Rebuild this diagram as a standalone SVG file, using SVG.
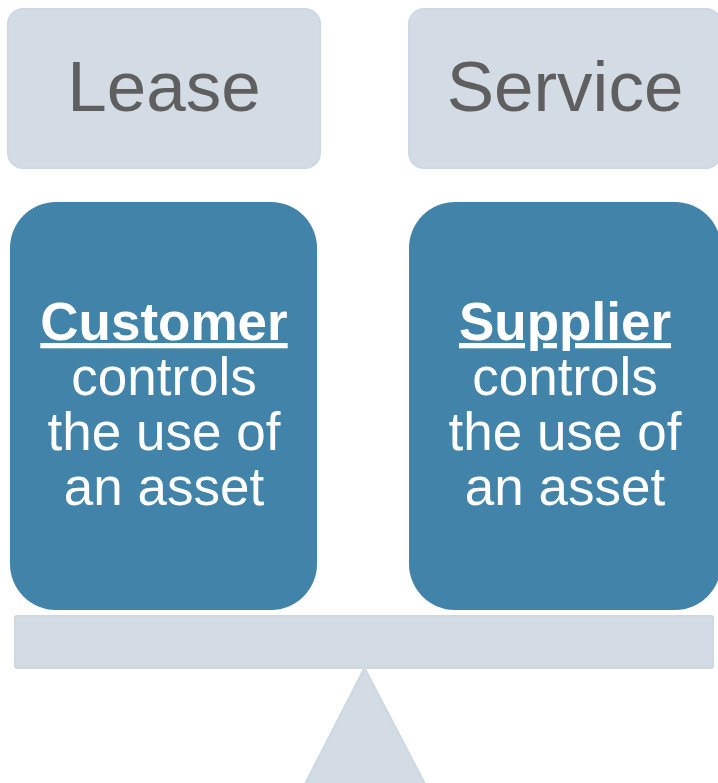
<svg xmlns="http://www.w3.org/2000/svg" width="718" height="783" viewBox="0 0 718 783">
<style>
.hdr{fill:#d3dce5;stroke:#cdd8e1;stroke-width:2}
.blue{fill:#4183a9}
.ht{font-family:"Liberation Sans",Arial,sans-serif;font-size:71px;fill:#5f5f5f;text-anchor:middle}
.bt{font-family:"Liberation Sans",Arial,sans-serif;font-size:53px;fill:#ffffff;text-anchor:middle}
.bold{font-weight:bold;text-decoration:underline}
</style>
<rect width="718" height="783" fill="#ffffff"/>
<g id="lease">
<rect class="hdr" x="8" y="9" width="312" height="159" rx="15"/>
<text class="ht" x="164" y="111">Lease</text>
</g>
<g id="service">
<rect class="hdr" x="409" y="9" width="312" height="159" rx="15"/>
<text class="ht" x="565" y="111">Service</text>
</g>
<g id="customer">
<rect class="blue" x="10" y="202" width="307" height="408" rx="46"/>
<text class="bt" x="164" y="340"><tspan class="bold">Customer</tspan></text>
<text class="bt" x="164" y="395">controls</text>
<text class="bt" x="164" y="450">the use of</text>
<text class="bt" x="164" y="505">an asset</text>
</g>
<g id="supplier">
<rect class="blue" x="409" y="202" width="312" height="408" rx="46"/>
<text class="bt" x="565" y="340"><tspan class="bold">Supplier</tspan></text>
<text class="bt" x="565" y="395">controls</text>
<text class="bt" x="565" y="450">the use of</text>
<text class="bt" x="565" y="505">an asset</text>
</g>
<g id="beam">
<rect class="hdr" x="15" y="616" width="698" height="52" rx="2"/>
</g>
<g id="fulcrum">
<polygon class="hdr" points="364.5,668 305,784 425,784"/>
</g>
<g id="connectors"></g>
</svg>
